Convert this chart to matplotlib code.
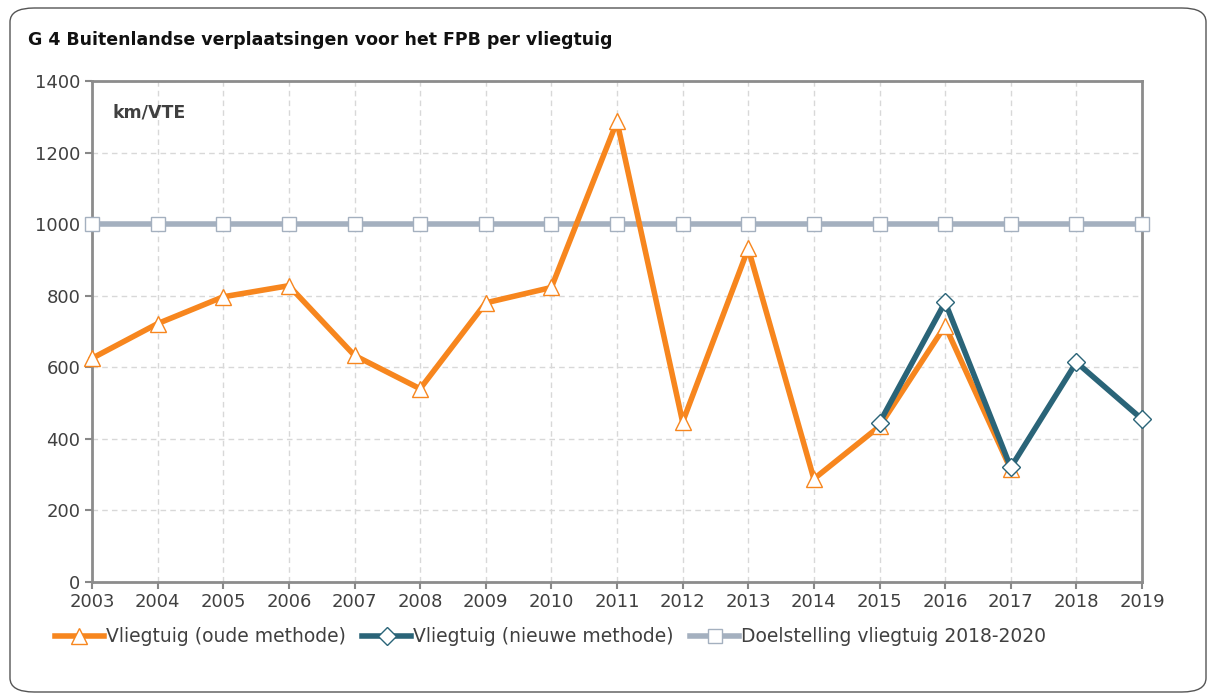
import numpy as np
import matplotlib.pyplot as plt
from matplotlib.patches import FancyBboxPatch

# data
jaren = list(range(2003, 2020))
oud_jaren = list(range(2003, 2018))
oud = [625, 722, 797, 828, 633, 540, 780, 823, 1287, 447, 932, 288, 435, 716, 315]
nieuw_jaren = [2015, 2016, 2017, 2018, 2019]
nieuw = [445, 782, 320, 614, 455]
doel = [1000] * len(jaren)

oranje = '#f7861e'
blauw = '#2a6478'
grijs = '#a4b0bf'
tekst = '#404040'

plt.rcParams['font.family'] = ['DejaVu Sans']

fig = plt.figure(figsize=(12.14, 6.98), dpi=100)

# kader rond de figuur
kader = FancyBboxPatch((10 / 1214, 6 / 698), 1196 / 1214, 684 / 698,
                       boxstyle="round,pad=0,rounding_size=0.02",
                       transform=fig.transFigure, facecolor='none',
                       edgecolor='#555555', linewidth=1.0, zorder=-1)
fig.patches.append(kader)

ax = fig.add_axes([92 / 1214, 1 - 582 / 698, 1050 / 1214, 501 / 698])

ax.plot(jaren, doel, color=grijs, lw=4, marker='s', ms=10,
        mfc='white', mec=grijs, mew=1, label='Doelstelling vliegtuig 2018-2020',
        zorder=3, clip_on=False)
ax.plot(oud_jaren, oud, color=oranje, lw=4, marker='^', ms=12,
        mfc='white', mec=oranje, mew=1, label='Vliegtuig (oude methode)',
        zorder=4, clip_on=False)
ax.plot(nieuw_jaren, nieuw, color=blauw, lw=4, marker='D', ms=9,
        mfc='white', mec=blauw, mew=1, label='Vliegtuig (nieuwe methode)',
        zorder=5, clip_on=False)

ax.set_xlim(2003, 2019)
ax.set_ylim(0, 1400)
ax.set_xticks(jaren)
ax.set_yticks(range(0, 1401, 200))
ax.tick_params(colors='#888888', labelcolor=tekst, labelsize=13, length=5, width=1.5)
ax.tick_params(axis='x', pad=3)
ax.grid(True, color='#d8d8d8', linestyle=(0, (4, 3)), lw=1)
ax.set_axisbelow(True)
for s in ax.spines.values():
    s.set_color('#8c8c8c')
    s.set_linewidth(2)

ax.text(0.02, 0.955, 'km/VTE', transform=ax.transAxes, fontsize=12.5,
        fontweight='bold', color=tekst, va='top')

fig.text(28 / 1214, 1 - 40 / 698, 'G 4 Buitenlandse verplaatsingen voor het FPB per vliegtuig',
         fontsize=12.5, fontweight='bold', color='#111111', va='center')

h, l = ax.get_legend_handles_labels()
volgorde = [1, 2, 0]
fig.legend([h[i] for i in volgorde], [l[i] for i in volgorde],
           loc='center left', bbox_to_anchor=(38 / 1214, 1 - 637 / 698),
           ncol=3, frameon=False, fontsize=13.5, handlelength=2.6,
           handletextpad=0.1, columnspacing=0.9, labelcolor=tekst)

fig.savefig('out.png', dpi=100)
